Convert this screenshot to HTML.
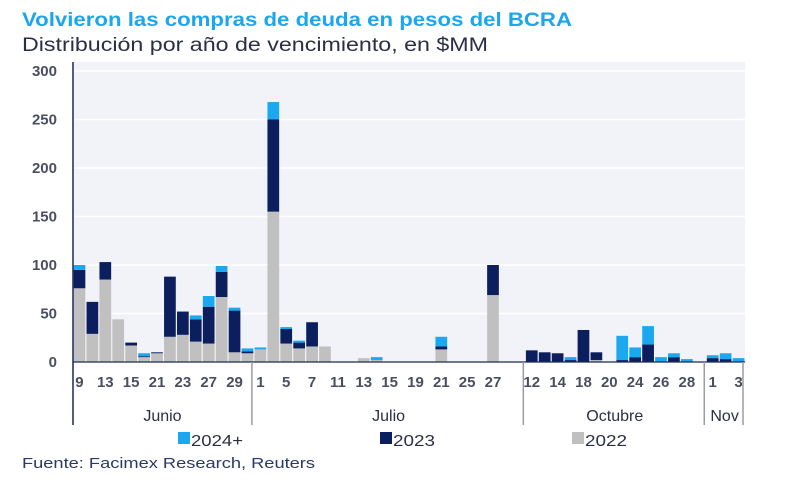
<!DOCTYPE html>
<html><head><meta charset="utf-8">
<style>
body{margin:0;background:#fff;width:800px;height:488px;overflow:hidden;font-family:"Liberation Sans",sans-serif;}
svg text{font-family:"Liberation Sans",sans-serif;}
</style></head>
<body>
<svg id="chart" width="800" height="488" viewBox="0 0 800 488">
<text x="22" y="26" font-size="19" font-weight="bold" fill="#1ba6ee" textLength="550" lengthAdjust="spacingAndGlyphs">Volvieron las compras de deuda en pesos del BCRA</text>
<text x="22" y="51" font-size="19" fill="#2a2f45" textLength="466" lengthAdjust="spacingAndGlyphs">Distribución por año de vencimiento, en $MM</text>
<rect x="73" y="62" width="672" height="300" fill="#f2f3f8"/>
<g id="grid"></g>
<g id="bars"></g>
<g id="axes"></g>
<g>
<rect x="178" y="432" width="12" height="12" fill="#1ba8f0"/>
<text x="191" y="446" font-size="16" fill="#2a2f45" textLength="52" lengthAdjust="spacingAndGlyphs">2024+</text>
<rect x="380" y="432" width="12" height="12" fill="#0b1f5e"/>
<text x="393" y="446" font-size="16" fill="#2a2f45" textLength="42" lengthAdjust="spacingAndGlyphs">2023</text>
<rect x="572" y="432" width="12" height="12" fill="#c0c0c0"/>
<text x="585" y="446" font-size="16" fill="#2a2f45" textLength="42" lengthAdjust="spacingAndGlyphs">2022</text>
</g>
<text x="22" y="468" font-size="15" fill="#2a3a66" textLength="293" lengthAdjust="spacingAndGlyphs">Fuente: Facimex Research, Reuters</text>
</svg>
<script>
const categories = [
"9","","13","","15","","21","","23","","27","","29","",
"1","","5","","7","","11","","13","","15","","19","","21","","25","","27","","",
"12","","14","","18","","20","","24","","26","","28","",
"1","","3"];
const s2022 = [76,29,85,44,17,5,9,26,28,21,19,67,10,9,
13,155,19,14,16,16,0,0,4,2,0,0,0,0,13,0,0,0,69,0,0,
0,0,0,0,0,2,0,0,0,0,0,0,0,0,
0,0,0];
const s2023 = [19,33,18,0,3,1,1,62,24,23,38,26,43,2,
0,95,15,6,25,0,0,0,0,0,0,0,0,0,3,0,0,0,31,0,0,
12,10,9,2,33,8,0,2,5,18,0,5,0,0,
4,3,0];
const s2024 = [5,0,0,0,0,3,0,0,0,4,11,6,3,3,
2,18,2,2,0,0,0,0,0,3,0,0,0,0,10,0,0,0,0,0,0,
0,0,0,3,0,0,0,25,10,19,5,4,3,0,
3,6,4];
const months = ["Junio","Julio","Octubre","Nov"];
const monthSizes = [14,21,14,3];
const yTicks = [0,50,100,150,200,250,300];

const NS="http://www.w3.org/2000/svg";
const X0=73, X1=745, Y0=362, Y1=71, YMAX=300;
const n=categories.length, slot=(X1-X0)/n;
const y=v=>Y0-(v/YMAX)*(Y0-Y1);
const x=i=>X0+i*slot;
function mk(tag,attrs,parent){const e=document.createElementNS(NS,tag);for(const k in attrs)e.setAttribute(k,attrs[k]);parent.appendChild(e);return e;}
const grid=document.getElementById('grid'), bars=document.getElementById('bars'), axes=document.getElementById('axes');
yTicks.forEach(t=>{
  if(t>0){const l=mk('line',{x1:X0,x2:X1,y1:y(t),y2:y(t),stroke:'#ffffff','stroke-width':1.5},grid);
  
  }
  const tx=mk('text',{x:57,y:y(t)+5,'font-size':15,'text-anchor':'end',fill:'#2a2f45','font-weight':'bold','fill-opacity':0.85},axes);
  tx.textContent=t;
  
  
});
const series=[[s2022,'#c0c0c0','2022'],[s2023,'#0b1f5e','2023'],[s2024,'#1ba8f0','2024']];
for(let i=0;i<n;i++){
  let base=0;
  series.forEach(([arr,col,nm])=>{
    const v=arr[i]; if(v<=0)return;
    const r=mk('rect',{x:x(i)+0.6,y:y(base+v),width:slot-1.2,height:y(base)-y(base+v),fill:col},bars);
    
    
    base+=v;
  });
  if(categories[i]){
    const t=mk('text',{x:x(i)+slot/2,y:387,'font-size':15,'text-anchor':'middle',fill:'#2a2f45','font-weight':'bold','fill-opacity':0.85},axes);
    t.textContent=categories[i];
    
    
  }
}
const ax=mk('line',{x1:X0,x2:X1,y1:Y0,y2:Y0,stroke:'#1c2a55','stroke-width':1.2},axes);


const ay=mk('line',{x1:X0,x2:X0,y1:62,y2:425,stroke:'#1c2a55','stroke-width':1.5},axes);


let start=0;
months.forEach((m,k)=>{
  const end=start+monthSizes[k];
  const xe=x(end)-2;
  const d=mk('line',{x1:xe,x2:xe,y1:Y0,y2:425,stroke:'#9a9aa5','stroke-width':1.5},axes);
  
  
  const t=mk('text',{x:(x(start)+xe)/2,y:421,'font-size':16,'text-anchor':'middle',fill:'#2a2f45'},axes);
  t.textContent=m;
  
  
  start=end;
});
</script>
</body></html>
